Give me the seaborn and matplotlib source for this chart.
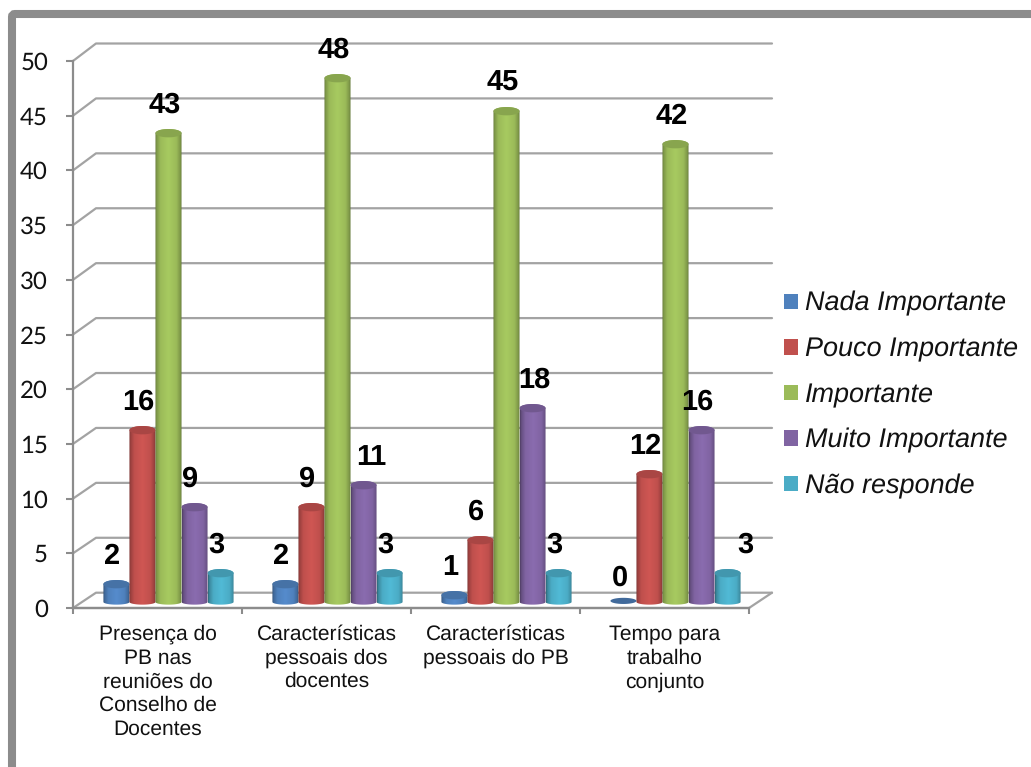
import numpy as np
import pandas as pd
import seaborn as sns
import matplotlib.pyplot as plt
from matplotlib.colors import to_rgb
from matplotlib.patches import FancyBboxPatch, Patch, PathPatch
from matplotlib.path import Path
from matplotlib.transforms import IdentityTransform

categories = [
    "Presença do\nPB nas\nreuniões do\nConselho de\nDocentes",
    "Características\npessoais dos\ndocentes",
    "Características\npessoais do PB",
    "Tempo para\ntrabalho\nconjunto",
]
series_names = ["Nada Importante", "Pouco Importante", "Importante", "Muito Importante", "Não responde"]
nada = [2, 2, 1, 0]
pouco = [16, 9, 6, 12]
importante = [43, 48, 45, 42]
muito = [9, 11, 18, 16]
nao_responde = [3, 3, 3, 3]
y_ticks = list(range(0, 51, 5))
colors = ["#4F81BD", "#C0504D", "#9BBB59", "#8064A2", "#4BACC6"]

W, H = 1031, 767
GREY = "#8C8C8C"
GRID = "#A3A3A3"

# a few labels sit away from their cylinder in the original (pixels)
label_nudge = {(1, 3): 12, (2, 3): 6, (3, 4): 22}

df = pd.DataFrame({
    "cat": np.tile(categories, 5),
    "serie": np.repeat(series_names, 4),
    "valor": nada + pouco + importante + muito + nao_responde,
})


def px_axes(fig, left, right, top, bottom):
    return fig.add_axes([left / W, 1 - bottom / H, (right - left) / W, (bottom - top) / H])


sns.set_theme(style="white")
plt.rcParams["font.family"] = ["Liberation Sans", "DejaVu Sans"]
plt.rcParams["text.hinting"] = "none"
plt.rcParams["text.hinting_factor"] = 1

fig = plt.figure(figsize=(W / 100, H / 100), dpi=100, facecolor="white")

# outer grey frame, runs off the right and bottom edges
fig.add_artist(FancyBboxPatch((12, -30), 1060, H - 14 + 30, boxstyle="round,pad=0,rounding_size=3",
                              fc="none", ec=GREY, lw=5.8, transform=IdentityTransform()))

# wall: axis, ticks and the gridlines on the back wall
wall = px_axes(fig, 73, 749, 61, 608)
wall.set_xlim(-0.5, 3.5)
wall.set_ylim(0, 50)
wall.set_yticks(y_ticks)
wall.set_xticks(range(4))
wall.set_xticklabels(categories, fontsize=15, linespacing=1.27, color="#111111")
wall.set_xticks(np.arange(-0.5, 4, 1), minor=True)
wall.tick_params(axis="x", which="major", length=0, pad=12)
wall.tick_params(axis="x", which="minor", length=4.5, width=1.5, color=GREY, bottom=True)
wall.tick_params(axis="y", length=5, width=1.5, color=GREY, pad=13, left=True)
for lab in wall.get_yticklabels():
    lab.set_family("Lato")
    lab.set_fontsize(17)
    lab.set_color("#111111")
for side in ["top", "right"]:
    wall.spines[side].set_visible(False)
for side in ["left", "bottom"]:
    wall.spines[side].set_color(GREY)
    wall.spines[side].set_linewidth(1.6)

dx = 23 / 676
tr = wall.get_yaxis_transform()
unit_px = 547 / 50
for v in y_ticks:
    dy = (15.3 + v * 0.044) / unit_px
    xs = [0, dx, 1 + dx]
    ys = [v, v + dy, v + dy]
    wall.plot(xs, ys, transform=tr, color=GRID, lw=1.6, clip_on=False, zorder=1)
    if v == 0:
        wall.plot([1, 1 + dx], [0, dy], transform=tr, color=GRID, lw=1.6, clip_on=False, zorder=1)
        wall.plot([0, 1], [0, 0], transform=tr, color=GREY, lw=1.6, clip_on=False, zorder=2)

# cylinders sit slightly in from the front of the floor; the axes reach below 0
# because images get cut at the axes box and the cylinder bottoms are round
ax = px_axes(fig, 84, 760, 52, 613)
ax.patch.set_visible(False)
sns.barplot(data=df, x="cat", y="valor", hue="serie", hue_order=series_names, order=categories,
            palette=colors, width=0.77, gap=0, legend=False, ax=ax)
ax.set_ylim(-1, 50)
xlim = ax.get_xlim()
ax.set_axis_off()

top_h = 0.38
bot_h = 0.24
shade = np.interp(np.linspace(0, 1, 64),
                  [0, 0.05, 0.2, 0.5, 0.8, 0.95, 1],
                  [0.62, 0.80, 1.0, 1.08, 1.0, 0.80, 0.62])
theta = np.linspace(0, np.pi, 40)

for s, container in enumerate(ax.containers):
    rgb = np.array(to_rgb(colors[s]))
    grad = np.clip(shade[None, :, None] * rgb[None, None, :], 0, 1)
    for c, bar in enumerate(container):
        bar.set_visible(False)
        x0, w, v = bar.get_x(), bar.get_width(), bar.get_height()
        cx, rx = x0 + w / 2, w / 2
        order = 3 + s
        if v == 0:
            ex = cx + rx * np.cos(2 * theta)
            ey = 0.1 + 0.28 * np.sin(2 * theta)
            ax.fill(ex, ey, color=rgb * 0.82, zorder=order, lw=0)
        else:
            # outline: bottom arc left to right, then top arc back
            bx = cx - rx * np.cos(theta)
            by = -bot_h * np.sin(theta)
            tx = cx + rx * np.cos(theta)
            ty = (v - top_h) + top_h * np.sin(theta)
            pts = np.column_stack([np.r_[bx, tx], np.r_[by, ty]])
            im = ax.imshow(grad, extent=[x0, x0 + w, -bot_h, v], aspect="auto", interpolation="bilinear",
                           zorder=order)
            im.set_clip_path(PathPatch(Path(pts), transform=ax.transData))
            ex = cx + rx * np.cos(2 * theta)
            ey = (v - top_h) + top_h * np.sin(2 * theta)
            ax.fill(ex, ey, color=rgb * 0.88, zorder=order + 0.5, lw=0)
        nudge = label_nudge.get((c, s), 0)
        ax.annotate(str(int(v)), xy=(cx, v), xytext=((nudge - 4) * 0.72, 17), textcoords="offset points",
                    ha="center", va="center", fontsize=21, fontweight="bold", color="black", zorder=20)
ax.set_xlim(xlim)
ax.set_ylim(-1, 50)

handles = [Patch(fc=col, ec="none", label=name) for col, name in zip(colors, series_names)]
fig.legend(handles=handles, loc="center left", bbox_to_anchor=(784 / W, 1 - 395 / H), frameon=False,
           prop={"style": "italic", "size": 19.3}, labelcolor="#111111", handlelength=0.52, handleheight=0.52,
           handletextpad=0.27, labelspacing=0.76, borderpad=0, borderaxespad=0)

fig.savefig("out.png", dpi=100)
